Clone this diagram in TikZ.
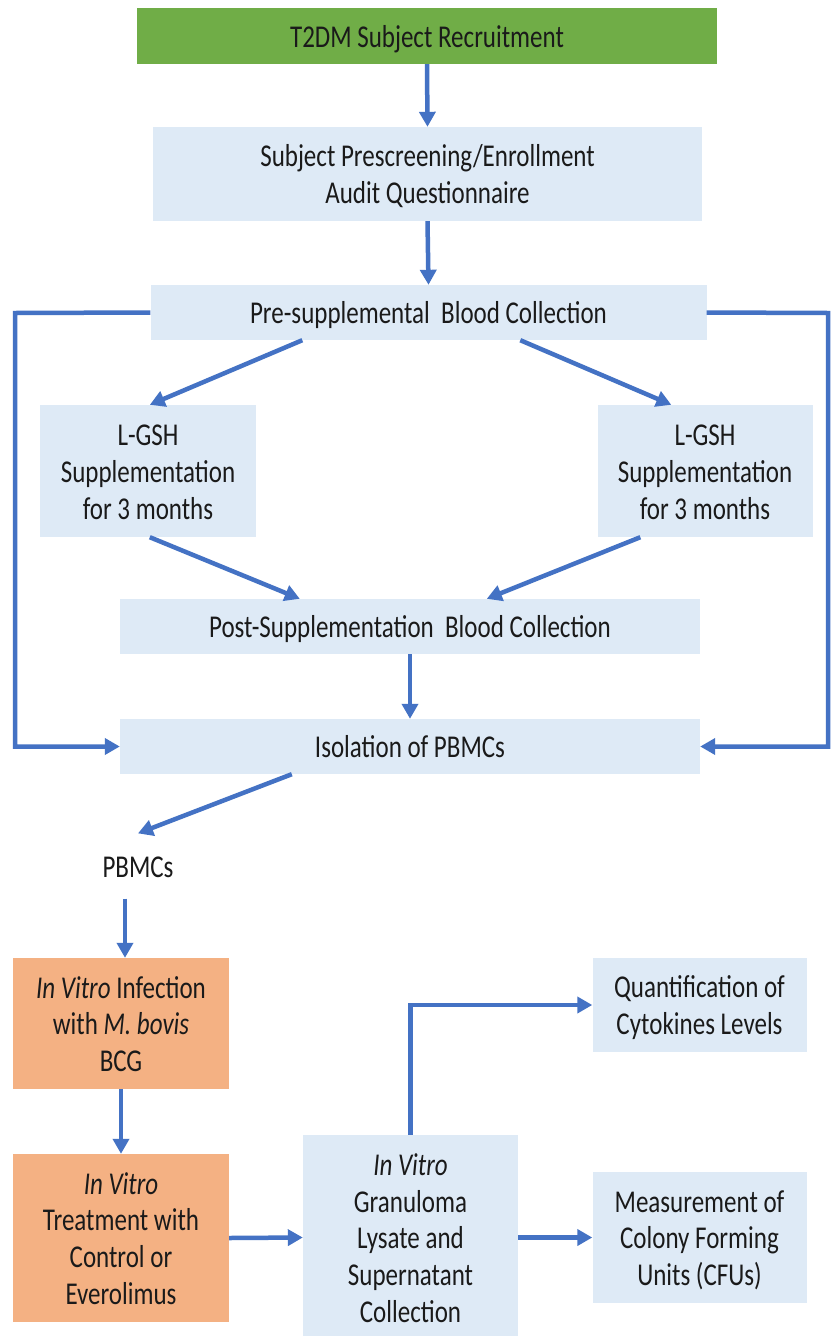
\documentclass[tikz,border=0pt]{standalone}
\usepackage{fontspec}
\usepackage{graphicx}
\setmainfont{Carlito}
\usetikzlibrary{arrows.meta}
\definecolor{boxgreen}{HTML}{70AD47}
\definecolor{boxblue}{HTML}{DEEAF6}
\definecolor{boxorange}{HTML}{F4B183}
\definecolor{arrowblue}{HTML}{4472C4}
\definecolor{txt}{HTML}{1A1A1A}
\newcommand\tx[1]{\raisebox{-4pt}[\height][\depth]{\scalebox{1}[1.27]{\begin{tabular}{@{}c@{}}#1\end{tabular}}}}
\tikzset{
  base/.style={rectangle, inner sep=0pt, text=txt,
    font=\fontsize{25}{29}\selectfont},
  greenbox/.style={base, fill=boxgreen},
  bluebox/.style={base, fill=boxblue},
  orangebox/.style={base, fill=boxorange},
  plain/.style={base},
  arr/.style={draw=arrowblue, line width=4.5pt, -{Triangle[length=15pt,width=16pt]}}
}
\begin{document}
\begin{tikzpicture}[x=1pt,y=-1pt]
\useasboundingbox (0,0) rectangle (830,1336);
\fill[white] (0,0) rectangle (830,1336);

\node[greenbox, minimum width=580pt, minimum height=56pt] (rec) at (427,36) {\tx{T2DM Subject Recruitment}};
\node[bluebox, minimum width=549pt, minimum height=94pt] (pre) at (427.5,174) {\tx{Subject Prescreening/Enrollment\\Audit Questionnaire}};
\node[bluebox, minimum width=556pt, minimum height=55pt] (psb) at (428.5,312.5) {\tx{Pre-supplemental\ \ Blood Collection}};
\node[bluebox, minimum width=216pt, minimum height=132pt] (lg1) at (148,471) {\tx{L-GSH\\Supplementation\\for 3 months}};
\node[bluebox, minimum width=215pt, minimum height=132pt] (lg2) at (705,471) {\tx{L-GSH\\Supplementation\\for 3 months}};
\node[bluebox, minimum width=580pt, minimum height=55pt] (post) at (410,626.5) {\tx{Post-Supplementation\ \ Blood Collection}};
\node[bluebox, minimum width=580pt, minimum height=55pt] (iso) at (410,746.5) {\tx{Isolation of PBMCs}};
\node[plain] (pbmc) at (138,866) {\tx{PBMCs}};
\node[orangebox, minimum width=216pt, minimum height=131pt] (inf) at (121,1023.5) {\tx{\textit{In Vitro} Infection\\with \textit{M. bovis}\\BCG}};
\node[orangebox, minimum width=216pt, minimum height=168pt] (trt) at (121,1238) {\tx{\textit{In Vitro}\\Treatment with\\Control or\\Everolimus}};
\node[bluebox, minimum width=215pt, minimum height=205pt] (gran) at (410.5,1237.5) {\tx{\textit{In Vitro}\\Granuloma\\Lysate and\\Supernatant\\Collection}};
\node[bluebox, minimum width=214pt, minimum height=94pt] (quant) at (699.5,1005) {\tx{Quantification of\\Cytokines Levels}};
\node[bluebox, minimum width=214pt, minimum height=131pt] (meas) at (699.5,1237.5) {\tx{Measurement of\\Colony Forming\\Units (CFUs)}};

\coordinate (L) at (15,313);
\coordinate (R) at (828,313);

\draw[arr] (rec.south) -- (pre.north);
\draw[arr] (pre.south) -- (psb.north);
\draw[arr] ([xshift=152pt]psb.south west) -- ([xshift=110pt]lg1.north west);
\draw[arr] ([xshift=370pt]psb.south west) -- ([xshift=74pt]lg2.north west);
\draw[arr] ([xshift=110pt]lg1.south west) -- ([xshift=180pt]post.north west);
\draw[arr] ([xshift=43pt]lg2.south west) -- ([xshift=367pt]post.north west);
\draw[arr] (post.south) -- (iso.north);
\draw[arr] (psb.west) -- (L) |- (iso.west);
\draw[arr] (psb.east) -- (R) |- (iso.east);
\draw[arr] ([xshift=172pt]iso.south west) -- ([yshift=14pt]pbmc.north);
\draw[arr] ([xshift=-13pt,yshift=-14pt]pbmc.south) -- ([xshift=4pt]inf.north);
\draw[arr] (inf.south) -- (trt.north);
\draw[arr] (trt.east) -- (gran.west);
\draw[arr] (gran.north) |- (quant.west);
\draw[arr] (gran.east) -- (meas.west);
\end{tikzpicture}
\end{document}
